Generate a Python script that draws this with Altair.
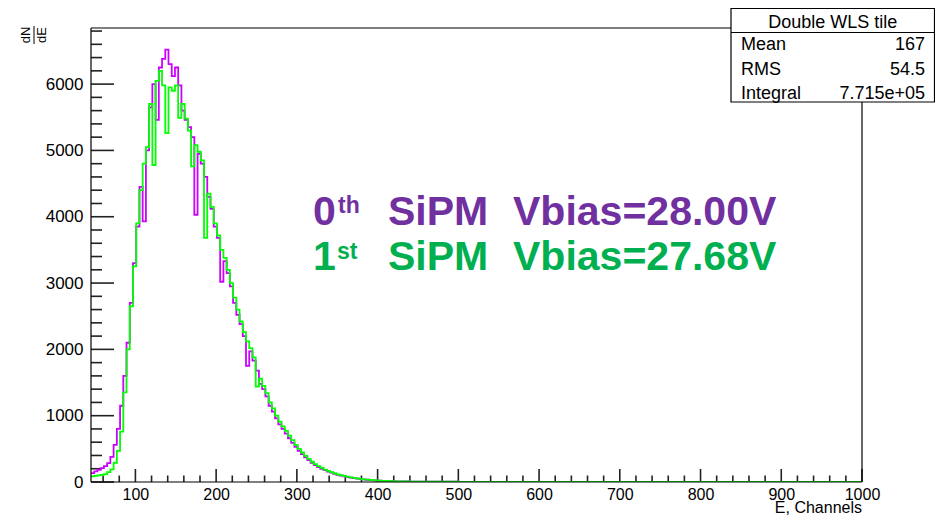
import altair as alt
import pandas as pd

# ---------------- data ----------------
fine_x = list(range(45, 425, 4))          # 4-channel bins, 45 .. 421
tail_x = [425, 440, 460, 480, 500, 550, 600, 700, 800, 900, 1000]
channels = fine_x + tail_x

# 0th SiPM (Vbias = 28.00 V) - magenta histogram
sipm0 = [
    135, 160, 185, 210, 240, 285, 380, 560, 800, 1150, 1600, 2100, 2700, 3300, 3850, 4450, 3930, 5000,
    5650, 6000, 5460, 6250, 6380, 6520, 6300, 6120, 6250, 5980, 5600, 5460, 5350, 5200, 4030, 4950,
    4800, 4600, 4300, 4120, 3850, 3680, 3020, 3330, 3150,
    2950, 2700, 2520, 2380, 2200, 1750, 1970, 1830, 1680, 1480, 1400, 1290, 1150, 1060, 960, 870, 800,
    730, 660, 590, 530, 470, 420, 370, 330, 290, 255,
    225, 200, 178, 158, 140, 122, 108, 95, 84, 74, 65, 57, 50, 44, 39, 34, 30, 26, 23, 20, 17, 15, 13, 11, 10,
    8, 6, 5, 4, 3, 2, 1, 1, 0, 0, 0,
]
# 1st SiPM (Vbias = 27.68 V) - green histogram
sipm1 = [
    85, 92, 100, 108, 118, 150, 190, 290, 470, 760, 1350, 2000, 2650, 3250, 3900, 4400, 4800, 5050,
    5700, 4780, 6050, 6200, 5980, 5260, 5950, 5900, 5980, 5490, 5700, 5480, 5300, 4760, 5080, 4980,
    4850, 3680, 4350, 4150, 3900, 3720, 3500, 3380, 3200,
    3000, 2780, 2600, 2420, 2260, 2120, 2020, 1880, 1440, 1560, 1450, 1340, 1200, 1110, 1000, 910, 840,
    770, 700, 630, 560, 500, 445, 395, 350, 305, 270,
    240, 212, 188, 168, 150, 132, 116, 102, 90, 80, 70, 62, 54, 47, 41, 36, 32, 28, 24, 21, 18, 16, 14, 12, 10,
    8, 7, 5, 4, 3, 2, 2, 1, 0, 0, 0,
]

x_major = [100, 200, 300, 400, 500, 600, 700, 800, 900, 1000]
x_minor = [v for v in range(60, 1001, 20) if v % 100]
y_major = [0, 1000, 2000, 3000, 4000, 5000, 6000]
y_minor = [v for v in range(200, 6801, 200) if v % 1000]

stats_title = "Double WLS tile"
stats_names = ["Mean", "RMS", "Integral"]
stats_values = ["167", "54.5", "7.715e+05"]

# ---------------- layout ----------------
W, H = 771, 454
XMIN, XMAX, YMAX = 45, 1000, 6846
FONT = "Liberation Sans"
ONE = pd.DataFrame({"k": [0]})
TICK_W = 1.6

XSCALE = alt.Scale(domain=[XMIN, XMAX], nice=False, zero=False)
YSCALE = alt.Scale(domain=[0, YMAX], nice=False)
XAXIS = alt.Axis(values=x_major, format="d", title=None, domain=False, ticks=False, tickSize=0,
                 grid=False, labelFont=FONT, labelFontSize=16, labelColor="black",
                 labelPadding=4, labelFlush=False, labelOverlap=False)
YAXIS = alt.Axis(values=y_major, format="d", title=None, domain=False, ticks=False, tickSize=0,
                 grid=False, labelFont=FONT, labelFontSize=17, labelColor="black",
                 labelPadding=8, labelFlush=False, labelOverlap=False)
X_ENC = alt.X("x:Q", scale=XSCALE, axis=XAXIS)
Y_ENC = alt.Y("y:Q", scale=YSCALE, axis=YAXIS)

df0 = pd.DataFrame({"x": channels, "y": sipm0})
df1 = pd.DataFrame({"x": channels, "y": sipm1})

line0 = alt.Chart(df0).mark_line(interpolate="step-after", color="#cc00ff", strokeWidth=1.8, clip=True).encode(x=X_ENC, y=Y_ENC)
line1 = alt.Chart(df1).mark_line(interpolate="step-after", color="#00ff00", strokeWidth=1.8, clip=True).encode(x=X_ENC, y=Y_ENC)


def hrule(x1, x2, y, w=1.2):
    return alt.Chart(ONE).mark_rule(color="black", strokeWidth=w).encode(
        x=alt.value(x1), x2=alt.value(x2), y=alt.value(y))


def vrule(x, y1, y2, w=1.2):
    return alt.Chart(ONE).mark_rule(color="black", strokeWidth=w).encode(
        x=alt.value(x), y=alt.value(y1), y2=alt.value(y2))


def txt(s, px, py, size, color="black", weight="normal", align="left", angle=0, baseline="alphabetic"):
    return alt.Chart(ONE).mark_text(text=s, fontSize=size, font=FONT, fontWeight=weight, color=color,
                                    align=align, baseline=baseline, angle=angle).encode(
        x=alt.value(px), y=alt.value(py))


# inward ROOT-style ticks
def xtick(v, length):
    return alt.Chart(ONE).mark_rule(color="#222222", strokeWidth=TICK_W).encode(
        x=alt.X(datum=v, scale=XSCALE, axis=XAXIS), y=alt.value(H), y2=alt.value(H - length))


xticks = [xtick(v, 13) for v in x_major] + [xtick(v, 6.5) for v in x_minor]
yt_major = alt.Chart(pd.DataFrame({"y": y_major})).mark_rule(color="#222222", strokeWidth=TICK_W).encode(
    y=Y_ENC, x=alt.value(0), x2=alt.value(23))
yt_minor = alt.Chart(pd.DataFrame({"y": y_minor})).mark_rule(color="#222222", strokeWidth=TICK_W).encode(
    y=Y_ENC, x=alt.value(0), x2=alt.value(11))

frame = [hrule(0, W, 0), hrule(0, W, H), vrule(0, 0, H), vrule(W, 0, H)]

PURPLE = "#7030a0"
GREEN = "#00b050"
annot = [
    txt("0", 222, 197, 41, PURPLE, "bold"),
    txt("th", 247, 185, 23, PURPLE, "bold"),
    txt("SiPM", 297, 197, 41, PURPLE, "bold"),
    txt("Vbias=28.00V", 422, 197, 41, PURPLE, "bold"),
    txt("1", 222, 242, 41, GREEN, "bold"),
    txt("st", 246, 231, 23, GREEN, "bold"),
    txt("SiPM", 297, 242, 41, GREEN, "bold"),
    txt("Vbias=27.68V", 422, 242, 41, GREEN, "bold"),
]

ytitle = [
    txt("dN", -65, 7, 13, angle=270, align="center", baseline="middle"),
    txt("dE", -49, 7, 13, angle=270, align="center", baseline="middle"),
    vrule(-57, -2, 16, 1),
]
xtitle = txt("E, Channels", W, 485, 16, align="right")

BX1, BX2, BY1, BY2 = 640, 843.5, -19.5, 74
stats_box = alt.Chart(ONE).mark_rect(fill="white", stroke="black", strokeWidth=1.2).encode(
    x=alt.value(BX1), x2=alt.value(BX2), y=alt.value(BY1), y2=alt.value(BY2))
stats_text = [
    hrule(BX1, BX2, 4.5),
    txt(stats_title, (BX1 + BX2) / 2, -0.5, 18, align="center"),
]
for i, (n, v) in enumerate(zip(stats_names, stats_values)):
    yb = 22 + i * 24.5
    stats_text.append(txt(n, 650, yb, 18))
    stats_text.append(txt(v, 834, yb, 18, align="right"))

chart = alt.layer(
    yt_major, yt_minor, *xticks, line0, line1, *frame, *annot, *ytitle, xtitle,
    stats_box, *stats_text,
).properties(
    width=W, height=H,
    padding={"left": 83, "top": 20, "right": 73, "bottom": 34},
    autosize=alt.AutoSizeParams(type="none"),
    background="white",
).configure_view(stroke=None)

chart.save("out.html", embed_options={"renderer": "svg", "actions": False})
